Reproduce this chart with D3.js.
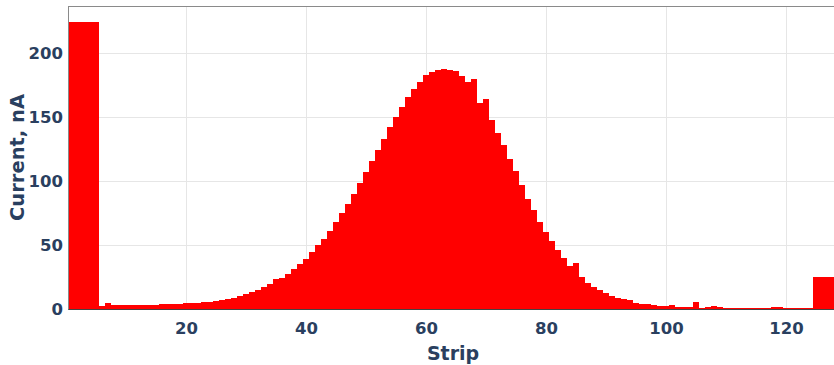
<!DOCTYPE html>
<html>
<head>
<meta charset="utf-8">
<script src="https://cdn.jsdelivr.net/npm/d3@7"></script>
<style>
  html, body { margin: 0; padding: 0; background: #fff; overflow: hidden; }
  svg { display: block; }
</style>
</head>
<body>
<svg id="chart" width="834" height="365"></svg>
<script>
// Current per strip (strips 1..128)
const currents = [
  224, 224, 224, 224, 224,
  2, 5, 3.0, 3.0, 3.0, 3.0, 3.1, 3.2, 3.3, 3.4, 3.6, 3.7, 3.9, 4.1, 4.3, 4.6, 4.9, 5.3, 5.8, 6.3, 7.0, 7.8, 8.8, 10.2, 12.0,
  13, 14.6, 17, 19.5, 23.7, 24.2, 27.6, 31, 35.4, 39, 44.5, 49.7, 55, 60.7, 68, 74.7, 82, 89.8, 98.2, 107, 115.4, 124.2, 133, 142.4, 150.3,
  158, 165.6, 171.6, 177, 182.8, 184.9, 186.7, 187.2, 186.5, 185.7, 182.3, 177.3, 179.4, 160.7, 164, 147.9, 137.5, 128.4, 117.2, 108, 96.6, 86.2, 77, 68, 60.3,
  52.9, 46.1, 39.8, 33.9, 36.2, 24.7, 20.6, 17.2, 14.8, 12.2, 10.2, 8.6, 7.6, 7, 4.9, 4.2, 3.6, 2.9, 2.3, 2.3, 3.4, 1.6, 1.3, 1.3, 5.5,
  0.5, 1.3, 2.1, 1.8, 1, 0.8, 0.5, 0.5, 1, 0.8, 1, 0.8, 1.6, 1.3, 0.5, 1, 0.5, 0.5, 0.5,
  24.7, 24.7, 24.7, 24.7
];
const xTickValues = [20, 40, 60, 80, 100, 120];
const yTickValues = [0, 50, 100, 150, 200];
const xTitle = "Strip";
const yTitle = "Current, nA";

const data = currents.map((v, i) => ({ strip: i + 1, value: v }));

const svg = d3.select("#chart");
const pL = 69, pR = 837, pT = 6, pB = 309;
const x = d3.scaleLinear().domain([0.5, 128.5]).range([pL, pR]);
const y = d3.scaleLinear().domain([0, 236.7]).range([pB, pT]);
const textColor = "#2a3f5f";
const font = "'DejaVu Sans', sans-serif";

// gridlines
const grid = svg.append("g");
grid.selectAll("line.vx").data(xTickValues).enter().append("line")
  .attr("x1", d => Math.round(x(d)) + 0.5).attr("x2", d => Math.round(x(d)) + 0.5)
  .attr("y1", pT).attr("y2", pB)
  .attr("stroke", "#e6e6e6").attr("stroke-width", 1);
grid.selectAll("line.hy").data(yTickValues.filter(d => d > 0)).enter().append("line")
  .attr("x1", pL).attr("x2", pR)
  .attr("y1", d => Math.round(y(d)) + 0.5).attr("y2", d => Math.round(y(d)) + 0.5)
  .attr("stroke", "#e6e6e6").attr("stroke-width", 1);

// bars
svg.append("g").selectAll("rect").data(data).enter().append("rect")
  .attr("x", d => x(d.strip - 0.5))
  .attr("width", d => x(d.strip + 0.5) - x(d.strip - 0.5))
  .attr("y", d => y(d.value))
  .attr("height", d => y(0) - y(d.value))
  .attr("fill", "#ff0000")
  .attr("shape-rendering", "crispEdges");

// frame
svg.append("line").attr("x1", pL - 0.5).attr("x2", pR).attr("y1", pT + 0.5).attr("y2", pT + 0.5)
  .attr("stroke", "#8a8a8a").attr("stroke-width", 1);
svg.append("line").attr("x1", pL - 0.5).attr("x2", pL - 0.5).attr("y1", pT).attr("y2", pB + 1)
  .attr("stroke", "#8a8a8a").attr("stroke-width", 1);
svg.append("line").attr("x1", pL - 0.5).attr("x2", pR).attr("y1", pB + 0.5).attr("y2", pB + 0.5)
  .attr("stroke", "#444").attr("stroke-width", 1);

// axes
const xAxis = d3.axisBottom(x).tickValues(xTickValues).tickSize(0).tickPadding(13).tickFormat(d3.format("d"));
const gx = svg.append("g").attr("transform", `translate(0,${pB})`).call(xAxis);
gx.select(".domain").remove();
gx.selectAll("text").attr("fill", textColor).style("font-family", font)
  .style("font-size", "16.5px").style("font-weight", "bold");

const yAxis = d3.axisLeft(y).tickValues(yTickValues).tickSize(0).tickPadding(6).tickFormat(d3.format("d"));
const gy = svg.append("g").attr("transform", `translate(${pL},0)`).call(yAxis);
gy.select(".domain").remove();
gy.selectAll("text").attr("fill", textColor).style("font-family", font)
  .style("font-size", "16.5px").style("font-weight", "bold");

// titles
svg.append("text").attr("x", (pL + pR) / 2).attr("y", 360)
  .attr("text-anchor", "middle").attr("fill", textColor)
  .style("font-family", font).style("font-size", "19px").style("font-weight", "bold")
  .text(xTitle);
svg.append("text").attr("transform", `translate(24,${(pT + pB) / 2}) rotate(-90)`)
  .attr("text-anchor", "middle").attr("fill", textColor)
  .style("font-family", font).style("font-size", "19.5px").style("font-weight", "bold")
  .text(yTitle);
</script>
</body>
</html>
